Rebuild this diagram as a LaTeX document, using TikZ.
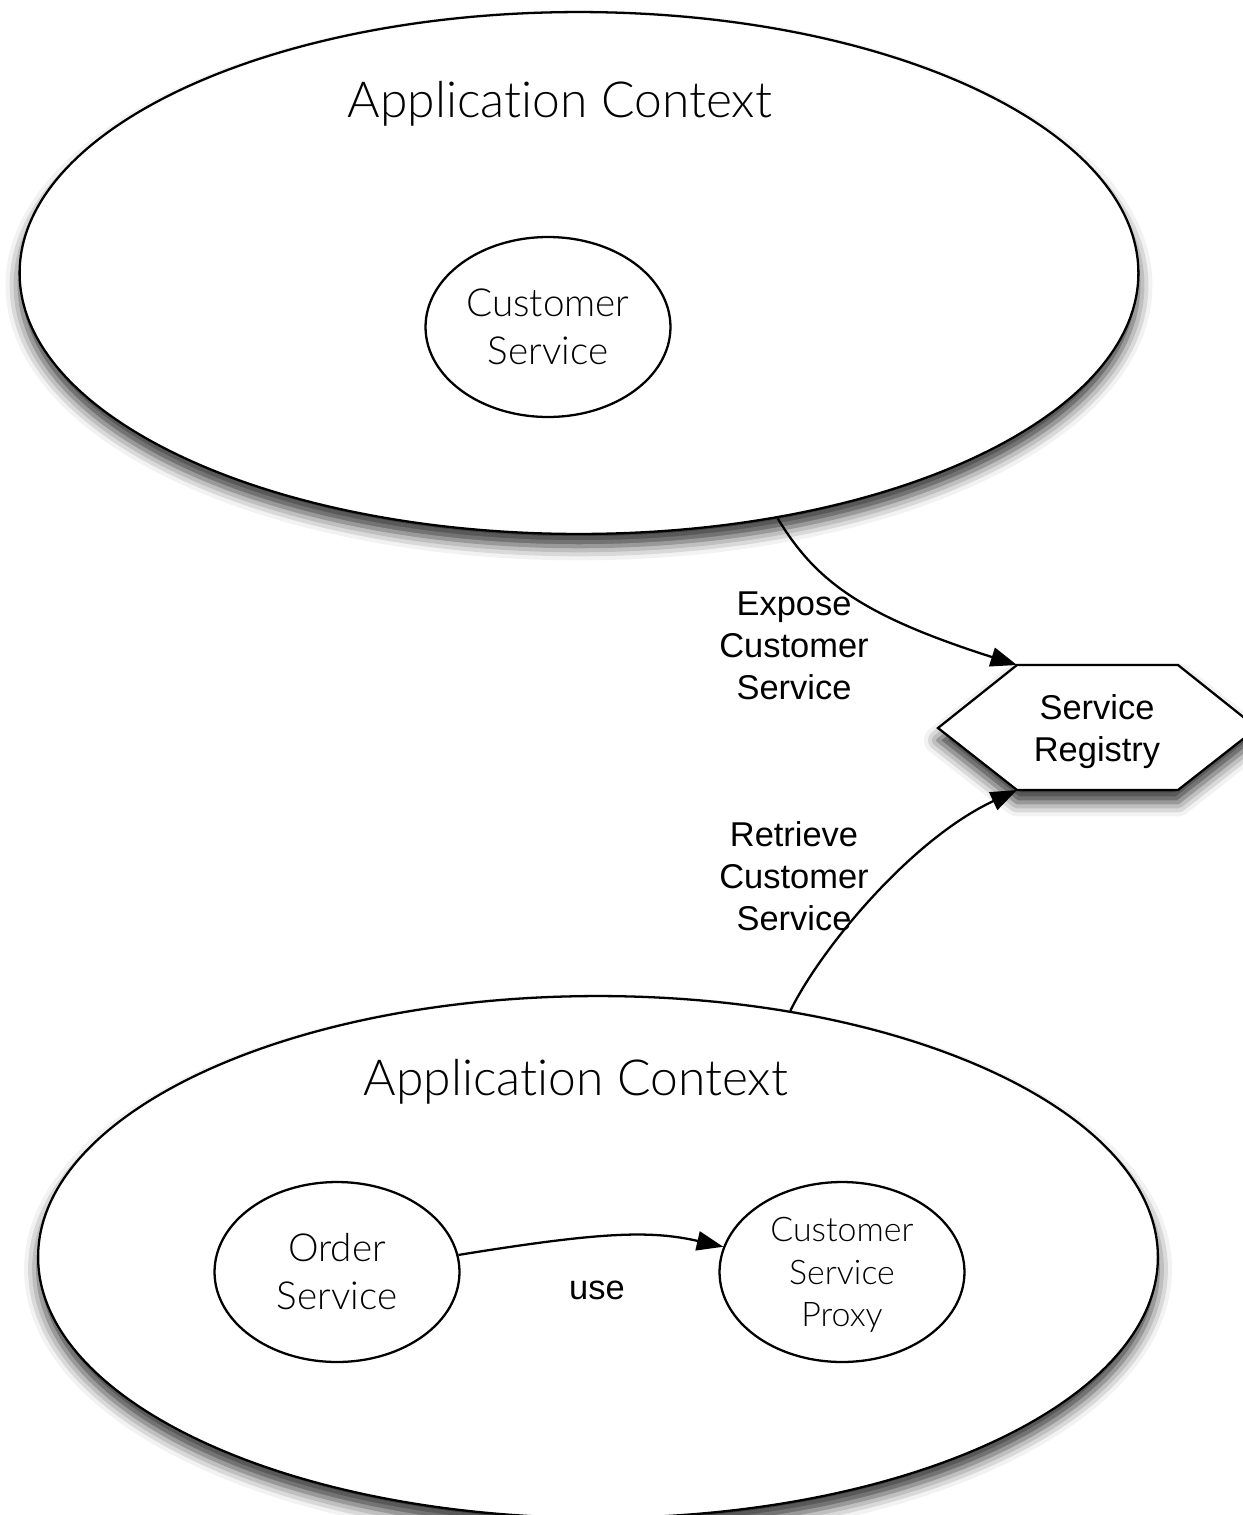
\documentclass[tikz,border=0pt]{standalone}
\usepackage{fontspec}
\setmainfont{Liberation Sans}
\newfontfamily\lightfont{Lato}[UprightFont=* Light,Ligatures={NoCommon}]
\usetikzlibrary{shapes.geometric,shadows.blur,arrows.meta}
\begin{document}
\begin{tikzpicture}[x=0.02cm,y=-0.02cm,
  shad/.style={blur shadow={shadow xshift=0pt,shadow yshift=-7pt,shadow blur radius=8pt,shadow opacity=80}},
  ctx/.style={ellipse,draw,line width=1.3pt,fill=white,inner sep=0pt,minimum width=22.38cm,minimum height=10.44cm,shad},
  svc/.style={ellipse,draw,line width=1.3pt,fill=white,inner sep=0pt,minimum width=4.9cm,minimum height=3.6cm,align=center},
  title/.style={font=\lightfont\fontsize{28.3}{34}\selectfont},
  bigtxt/.style={font=\lightfont\fontsize{22}{27.3}\selectfont},
  smalltxt/.style={align=center,font=\lightfont\fontsize{19.3}{24}\selectfont},
  lbl/.style={align=center,font=\fontsize{19.6}{24}\selectfont},
  conn/.style={line width=1.3pt,-{Triangle[length=15pt,width=11pt,fill=black]}}
]
\useasboundingbox (0,0) rectangle (1242,1515);
% top context
\node[ctx] (top) at (579,273) {};
\node[title] (toptitle) at (560,104) {Application Context};
\node[svc,bigtxt] (cust) at (548,327) {Customer\\Service};
% bottom context
\node[ctx,minimum width=22.4cm] (bot) at (598,1257) {};
\node[title] (bottitle) at (576,1082) {Application Context};
\node[svc,bigtxt] (order) at (337,1272) {Order\\Service};
\node[svc] (proxy) at (842,1272) {};
\node[smalltxt] (proxytxt) at (842,1275) {Customer\\Service\\Proxy};
% registry hexagon
\coordinate (hW) at (938,728);
\coordinate (hNW) at (1017,665);
\coordinate (hNE) at (1178,665);
\coordinate (hE) at (1257,728);
\coordinate (hSE) at (1178,790);
\coordinate (hSW) at (1017,790);
\draw[line width=1.3pt,fill=white,shad] (hW) -- (hNW) -- (hNE) -- (hE) -- (hSE) -- (hSW) -- cycle;
\node[lbl] (reg) at (1097,732) {Service\\Registry};
% connectors
\draw[conn] (top.-51.2) .. controls (815,580) and (860,615) .. (hNW);
\draw[conn] (bot.52.9) .. controls (820,950) and (910,840) .. (hSW);
\draw[conn] (order.8) .. controls (600,1232) and (650,1230) .. (proxy.168);
% labels
\node[lbl] (lexpose) at (794,646) {Expose\\Customer\\Service};
\node[lbl] (lretrieve) at (794,876) {Retrieve\\Customer\\Service};
\node[lbl] (luse) at (597,1290) {use};
\end{tikzpicture}
\end{document}
